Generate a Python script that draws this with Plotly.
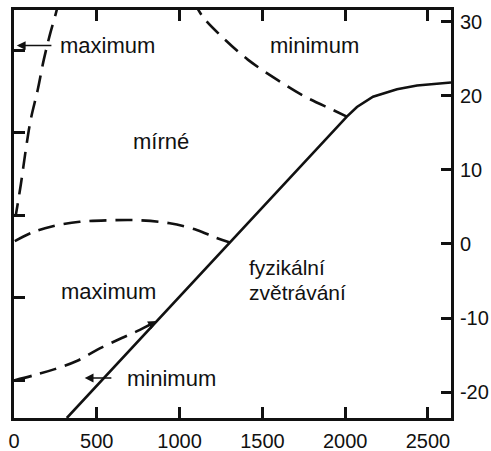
import plotly.graph_objects as go

# axis ticks
x_ticks = [0, 500, 1000, 1500, 2000, 2500]
y_ticks = [-20, -10, 0, 10, 20, 30]
y_tick_text = ["-20", "-10", "0", "10", "20", "30"]
left_ticks = [0, 1, 2, 3, 4]

# solid line: boundary of physical weathering
solid_x = [319, 2010, 2071, 2168, 2313, 2434, 2639]
solid_y = [-23.5, 17.2, 18.5, 19.9, 20.9, 21.4, 21.8]

# dashed boundaries
left_x = [270, 258, 216, 180, 143, 101, 71, 41, 11]
left_y = [33.0, 31.6, 28.2, 24.9, 20.8, 16.8, 12.7, 8.0, 3.9]

topright_x = [1080, 1140, 1255, 1412, 1588, 1757, 1926, 2010]
topright_y = [33.0, 30.7, 28.0, 24.9, 22.2, 19.9, 18.1, 17.2]

mid_x = [5, 114, 234, 397, 578, 760, 941, 1104, 1213, 1304]
mid_y = [0.4, 1.6, 2.4, 3.0, 3.2, 3.2, 2.8, 1.9, 0.9, 0.2]

low_x = [5, 125, 246, 379, 518, 651, 760, 863]
low_y = [-18.4, -17.7, -16.9, -15.8, -14.1, -12.7, -11.6, -10.4]

INK = "#111111"
FONT = "Liberation Sans, Arial, sans-serif"
DASH = "17px,9px"

fig = go.Figure()
fig.add_trace(go.Scatter(x=solid_x, y=solid_y, mode="lines",
                         line=dict(color=INK, width=2.6), hoverinfo="skip"))
for xs, ys in [(left_x, left_y), (topright_x, topright_y), (mid_x, mid_y), (low_x, low_y)]:
    fig.add_trace(go.Scatter(x=xs, y=ys, mode="lines", line_shape="spline",
                             line=dict(color=INK, width=2.6, dash=DASH), hoverinfo="skip"))

# invisible trace on left axis for its own ticks
fig.add_trace(go.Scatter(x=[0], y=[0], yaxis="y2", mode="markers",
                         marker=dict(opacity=0), hoverinfo="skip"))

labels = [
    ("maximum", 264, 26.8, "left", 22),
    ("mírné", 890, 13.8, "center", 22),
    ("minimum", 1817, 26.8, "center", 22),
    ("maximum", 569, -6.4, "center", 22),
    ("minimum", 669, -18.1, "left", 22),
    ("fyzikální", 1406, -3.2, "left", 21),
    ("zvětrávání", 1406, -6.55, "left", 21),
]
for t, x, y, anc, sz in labels:
    fig.add_annotation(x=x, y=y, xref="x", yref="y", text=t, showarrow=False,
                       xanchor=anc, yanchor="middle",
                       font=dict(family=FONT, size=sz, color=INK))

arrows = [
    (17, 26.8, 235, 26.8),
    (427, -18.1, 597, -18.1),
    (863, -10.4, 790, -11.3),
]
for hx, hy, tx, ty in arrows:
    fig.add_annotation(x=hx, y=hy, ax=tx, ay=ty, xref="x", yref="y",
                       axref="x", ayref="y", text="", showarrow=True,
                       arrowhead=2, arrowsize=1.1, arrowwidth=1.6, arrowcolor=INK)

fig.update_layout(
    width=491, height=451,
    margin=dict(l=14, r=40, t=10, b=33),
    paper_bgcolor="white", plot_bgcolor="white",
    showlegend=False,
    xaxis=dict(range=[0, 2639], tickvals=x_ticks, ticks="inside", ticklen=11,
               tickwidth=2.5, tickcolor=INK, showline=True, linewidth=2.8,
               linecolor=INK, mirror="ticks", showgrid=False, zeroline=False,
               automargin=False, ticklabelstandoff=3,
               tickfont=dict(family=FONT, size=20, color=INK)),
    yaxis=dict(range=[-23.5, 31.6], tickvals=y_ticks, ticktext=y_tick_text,
               side="right", ticks="inside", ticklen=10, tickwidth=2.5,
               tickcolor=INK, showline=True, linewidth=2.8, linecolor=INK,
               mirror=True, showgrid=False, zeroline=False, automargin=False,
               ticklabelstandoff=2,
               tickfont=dict(family=FONT, size=20, color=INK)),
    yaxis2=dict(range=[-0.46, 4.485], overlaying="y", side="left",
                tickvals=left_ticks, ticks="inside", ticklen=11, tickwidth=2.5,
                tickcolor=INK, showticklabels=False, showline=False,
                showgrid=False, zeroline=False, automargin=False),
)

fig.write_html("out.html")
